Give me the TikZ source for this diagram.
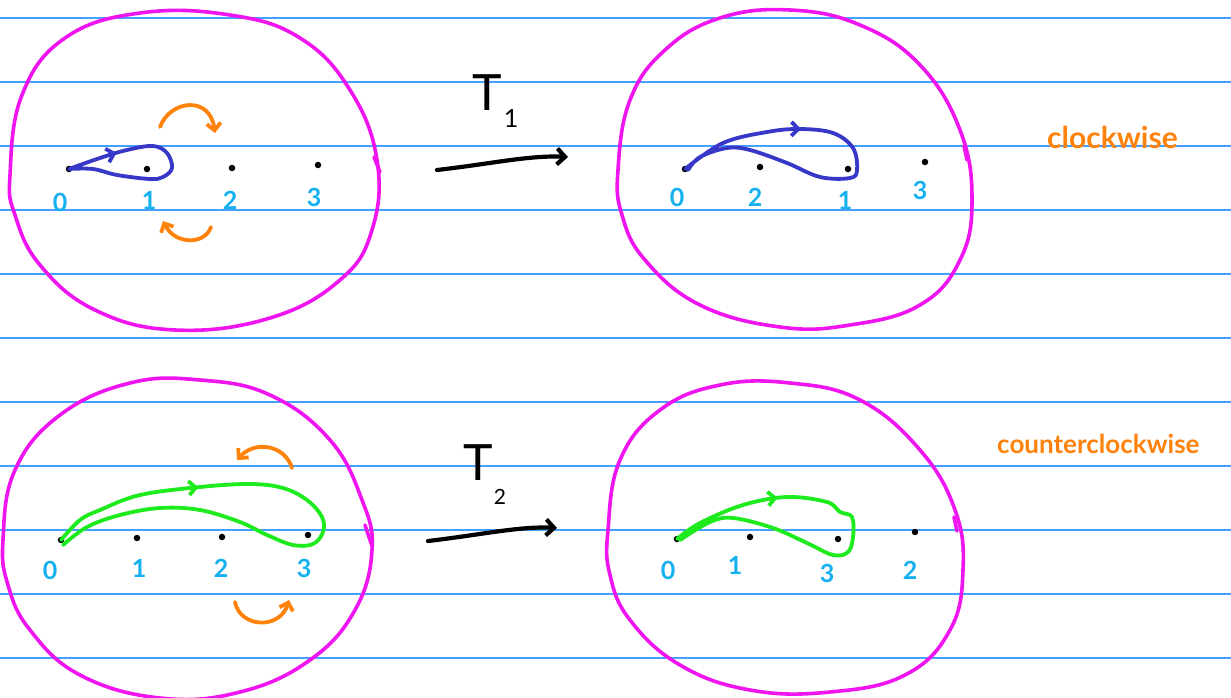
\documentclass[tikz,border=0pt]{standalone}
\usepackage{fontspec}
\setmainfont{Lato}
\usetikzlibrary{arrows.meta,positioning,decorations.markings}
\definecolor{rulecolor}{RGB}{70,160,255}
\definecolor{ringcolor}{RGB}{240,20,240}
\definecolor{labelcolor}{RGB}{20,176,240}
\definecolor{loopcolor}{RGB}{55,55,200}
\definecolor{greencolor}{RGB}{30,235,30}
\definecolor{turncolor}{RGB}{255,130,10}
\begin{document}
\begin{tikzpicture}[
    x=1pt, y=-1pt,
    rule/.style={draw=rulecolor, line width=1.3pt},
    ring/.style={draw=ringcolor, line width=3.6pt, line cap=round},
    pt/.style={circle, fill=black, minimum size=6.5pt, inner sep=0pt},
    lab/.style={text=labelcolor, font=\fontsize{25}{25}\selectfont\bfseries, inner sep=0pt},
    bluepath/.style={draw=loopcolor, line width=3.8pt, line cap=round, line join=round},
    greenpath/.style={draw=greencolor, line width=3.8pt, line cap=round, line join=round},
    midarrow/.style={postaction={decorate}, decoration={markings, mark=at position #1 with {\arrow{Straight Barb[length=7pt,width=14pt]}}}},
    turn/.style={draw=turncolor, line width=3.8pt, line cap=round, -{Straight Barb[length=7pt,width=14pt]}},
    map/.style={draw=black, line width=4.2pt, line cap=round, -{Straight Barb[length=8pt,width=16pt]}},
    word/.style={text=turncolor, inner sep=0pt, anchor=base west}
]

\fill[white] (0,0) rectangle (1231,698);
\useasboundingbox (0,0) rectangle (1231,698);

% ruled paper
\draw[rule] (0,18) -- (1231,18);
\draw[rule] (0,82) -- (1231,82);
\draw[rule] (0,146) -- (1231,146);
\draw[rule] (0,210) -- (1231,210);
\draw[rule] (0,274) -- (1231,274);
\draw[rule] (0,338) -- (1231,338);
\draw[rule] (0,402) -- (1231,402);
\draw[rule] (0,466) -- (1231,466);
\draw[rule] (0,530) -- (1231,530);
\draw[rule] (0,594) -- (1231,594);
\draw[rule] (0,658) -- (1231,658);

% discs
\draw[ring] plot[smooth cycle, tension=0.7] coordinates {(10,175) (22,95) (65,38) (140,13) (230,15) (300,38) (350,90) (377,160) (372,230) (340,280) (270,318) (175,330) (95,310) (40,265) (15,215)};
\draw[ring] (374,157) -- (380,172);
\draw[ring] plot[smooth cycle, tension=0.7] coordinates {(618,170) (630,100) (665,50) (720,18) (790,10) (860,25) (920,65) (960,130) (972,200) (960,260) (920,305) (850,325) (780,327) (700,305) (645,260) (622,215)};
\draw[ring] (964,146) -- (967,160);
\draw[ring] plot[smooth cycle, tension=0.7] coordinates {(3,540) (15,470) (60,415) (130,383) (200,380) (270,395) (330,440) (362,500) (372,550) (355,610) (310,660) (240,692) (160,698) (80,675) (30,630) (8,585)};
\draw[ring] (365,525) -- (372,546);
\draw[ring] plot[smooth cycle, tension=0.7] coordinates {(608,530) (620,460) (660,410) (720,385) (790,383) (860,400) (920,450) (955,510) (963,570) (950,630) (905,675) (830,692) (750,690) (680,665) (630,620) (610,575)};
\draw[ring] (954,517) -- (957,531);

% punctures
\node[pt] (a0) at (69,169) {};
\node[pt] (a1) at (147,169) {};
\node[pt] (a2) at (232,168) {};
\node[pt] (a3) at (318,165) {};
\node[pt] (b0) at (685,169) {};
\node[pt] (b2) at (760,167) {};
\node[pt] (b1) at (848,169) {};
\node[pt] (b3) at (925,162) {};
\node[pt] (c0) at (61,540) {};
\node[pt] (c1) at (137,538) {};
\node[pt] (c2) at (222,537) {};
\node[pt] (c3) at (308,535) {};
\node[pt] (d0) at (677,539) {};
\node[pt] (d1) at (750,537) {};
\node[pt] (d3) at (838,539) {};
\node[pt] (d2) at (915,532) {};

\node[lab] (la0) at (60,202) {0};
\node[lab] (la1) at (149,200) {1};
\node[lab] (la2) at (230,200) {2};
\node[lab] (la3) at (314,197) {3};
\node[lab] (lb0) at (677,197) {0};
\node[lab] (lb2) at (755,197) {2};
\node[lab] (lb1) at (845,200) {1};
\node[lab] (lb3) at (920,190) {3};
\node[lab] (lc0) at (50,570) {0};
\node[lab] (lc1) at (139,568) {1};
\node[lab] (lc2) at (221,568) {2};
\node[lab] (lc3) at (304,568) {3};
\node[lab] (ld0) at (668,570) {0};
\node[lab] (ld1) at (735,565) {1};
\node[lab] (ld3) at (827,573) {3};
\node[lab] (ld2) at (910,570) {2};

% loops
\draw[bluepath, midarrow=0.22] plot[smooth, tension=0.6] coordinates {(a0.center) (100,158) (127,150) (153,146) (167,153) (172,168) (163,177) (150,179) (117,175) (93,169) (a0.center)};
\draw[bluepath, midarrow=0.32] plot[smooth, tension=0.6] coordinates {(b0.center) (723,143) (767,132) (800,129) (833,133) (853,148) (857,170) (850,178) (820,177) (787,163) (750,150) (727,148) (700,157) (688,170)};
\draw[greenpath, midarrow=0.26] plot[smooth, tension=0.6] coordinates {(c0.center) (80,520) (100,510) (140,495) (200,487) (250,484) (283,488) (307,500) (322,517) (323,532) (313,544) (293,545) (267,535) (240,522) (200,510) (160,508) (120,515) (87,527) (63,545)};
\draw[greenpath, midarrow=0.27] plot[smooth, tension=0.6] coordinates {(d0.center) (700,523) (743,505) (787,497) (827,502) (840,512) (852,517) (853,537) (848,552) (833,555) (807,543) (773,528) (733,518) (710,522) (680,540)};

% half twists
\draw[turn] (160,127) .. controls (170,100) and (210,95) .. (215,133);
\draw[turn] (211,227) .. controls (205,245) and (175,245) .. (163,221);
\draw[turn] (292,468) .. controls (285,445) and (255,440) .. (237,460);
\draw[turn] (235,602) .. controls (240,628) and (280,630) .. (289,600);

% maps
\node[font=\fontsize{50}{50}\selectfont, inner sep=0pt] (t1) at (487,93) {T};
\node[font=\fontsize{25}{25}\selectfont, inner sep=0pt] (s1) at (511,119) {1};
\node[font=\fontsize{50}{50}\selectfont, inner sep=0pt] (t2) at (478,463) {T};
\node[font=\fontsize{21}{21}\selectfont, inner sep=0pt] (s2) at (500,497) {2};
\coordinate (m1s) at (437,170);
\coordinate (m1e) at (568,157);
\coordinate (m2s) at (428,541);
\coordinate (m2e) at (557,528);
\draw[map] (m1s) .. controls (490,164) and (530,155) .. (m1e);
\draw[map] (m2s) .. controls (480,535) and (520,526) .. (m2e);

\node[word, font=\fontsize{30}{30}\selectfont\bfseries] (cw) at (1047,148) {clockwise};
\node[word, font=\fontsize{26}{26}\selectfont\bfseries] (ccw) at (997,453) {counterclockwise};

\end{tikzpicture}
\end{document}
